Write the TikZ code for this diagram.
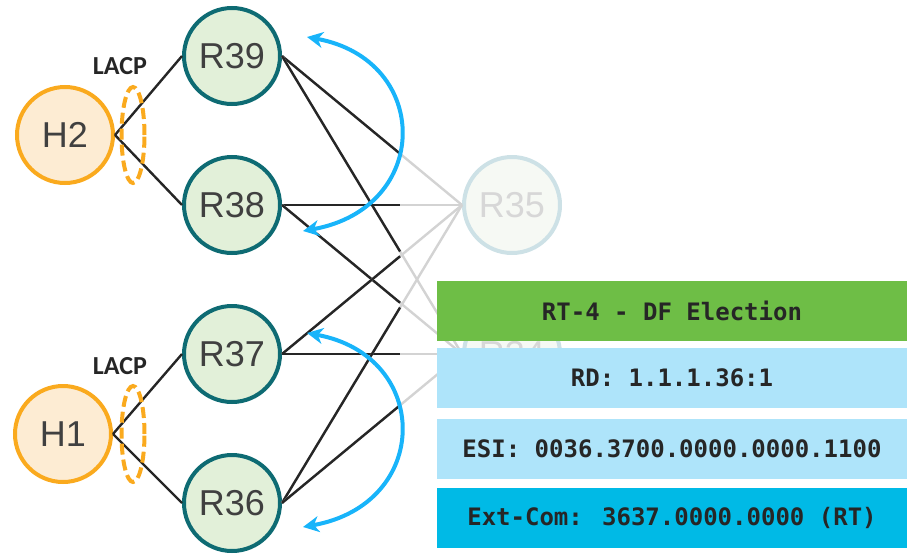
\documentclass[tikz,border=0pt]{standalone}
\usepackage{fontspec}
\setmainfont{Liberation Sans}
\newfontfamily\monofont{DejaVu Sans Mono}
\newfontfamily\lacpfont{Carlito}
\usetikzlibrary{calc,arrows.meta}

\definecolor{routerfill}{RGB}{226,240,217}
\definecolor{routerline}{RGB}{14,107,115}
\definecolor{hostfill}{RGB}{253,236,211}
\definecolor{hostline}{RGB}{250,170,30}
\definecolor{fadefill}{RGB}{246,249,244}
\definecolor{fadeline}{RGB}{205,225,230}
\definecolor{fadetext}{RGB}{215,215,215}
\definecolor{linkgray}{RGB}{211,211,211}
\definecolor{arcblue}{RGB}{24,180,250}
\definecolor{boxgreen}{RGB}{110,190,70}
\definecolor{boxlight}{RGB}{174,228,250}
\definecolor{boxblue}{RGB}{0,186,230}
\definecolor{textgray}{RGB}{64,64,64}

\tikzset{
  router/.style={circle,draw=routerline,fill=routerfill,line width=4pt,
    minimum size=96pt,inner sep=0pt,text=textgray,
    font=\fontsize{36}{36}\selectfont},
  host/.style={router,draw=hostline,fill=hostfill},
  faded/.style={router,draw=fadeline,fill=fadefill,text=fadetext},
  link/.style={line width=2.4pt,draw=black!85},
  glink/.style={line width=2.4pt,draw=linkgray},
  lacp/.style={draw=hostline,line width=4pt,dash pattern=on 11pt off 5pt},
  lacptext/.style={text=black!85,font=\lacpfont\bfseries\fontsize{26}{26}\selectfont},
  dfarc/.style={draw=arcblue,line width=4pt,
    {Stealth[length=16pt,width=16pt,inset=5pt]}-{Stealth[length=16pt,width=16pt,inset=5pt]}},
  rtbox/.style={minimum width=470pt,minimum height=60pt,inner sep=0pt,
    text=black!85,font=\monofont\bfseries\fontsize{24}{24}\selectfont}
}

\begin{document}
\begin{tikzpicture}[x=1pt,y=-1pt]
\useasboundingbox (0,0) rectangle (907,554);

% hosts and routers
\node[host] (H2) at (65,135) {H2};
\node[host] (H1) at (63,434) {H1};
\node[router] (R39) at (232,56) {R39};
\node[router] (R38) at (232,205) {R38};
\node[router] (R37) at (232,354) {R37};
\node[router] (R36) at (232,503) {R36};
\node[faded] (R35) at (512,205) {R35};
\node[faded] (R34) at (512,354) {R34};

% uplinks
\foreach \r in {R39,R38,R37,R36} {
  \foreach \s in {R35,R34} {
    \draw[glink] (\r.east) -- (\s.west);
    \draw[link] (\r.east) -- ($(\r.east)!0.656!(\s.west)$);
  }
}

% host links
\draw[link] (H2.east) -- (R39.west);
\draw[link] (H2.east) -- (R38.west);
\draw[link] (H1.east) -- (R37.west);
\draw[link] (H1.east) -- (R36.west);

% LACP bundles
\draw[lacp] (133,135) ellipse [x radius=11.5pt,y radius=48pt];
\draw[lacp] (133,434) ellipse [x radius=11.5pt,y radius=48pt];
\node[lacptext] (lacp2) at (120,66) {LACP};
\node[lacptext] (lacp1) at (120,366) {LACP};

% DF arcs
\coordinate (a1) at (307,37);
\coordinate (a2) at (303,231);
\coordinate (b1) at (307,333);
\coordinate (b2) at (303,527);
\draw[dfarc] (a1) .. controls (432,60) and (432,208) .. (a2);
\draw[dfarc] (b1) .. controls (432,356) and (432,504) .. (b2);

% route fields
\node[rtbox,fill=boxgreen] (rt) at (672,311) {RT-4 - DF Election};
\node[rtbox,fill=boxlight] (rd) at (672,378) {RD: 1.1.1.36:1};
\node[rtbox,fill=boxlight] (esi) at (672,448.5) {ESI: 0036.3700.0000.0000.1100};
\node[rtbox,fill=boxblue] (ext) at (672,517.5) {Ext-Com: 3637.0000.0000 (RT)};
\end{tikzpicture}
\end{document}
